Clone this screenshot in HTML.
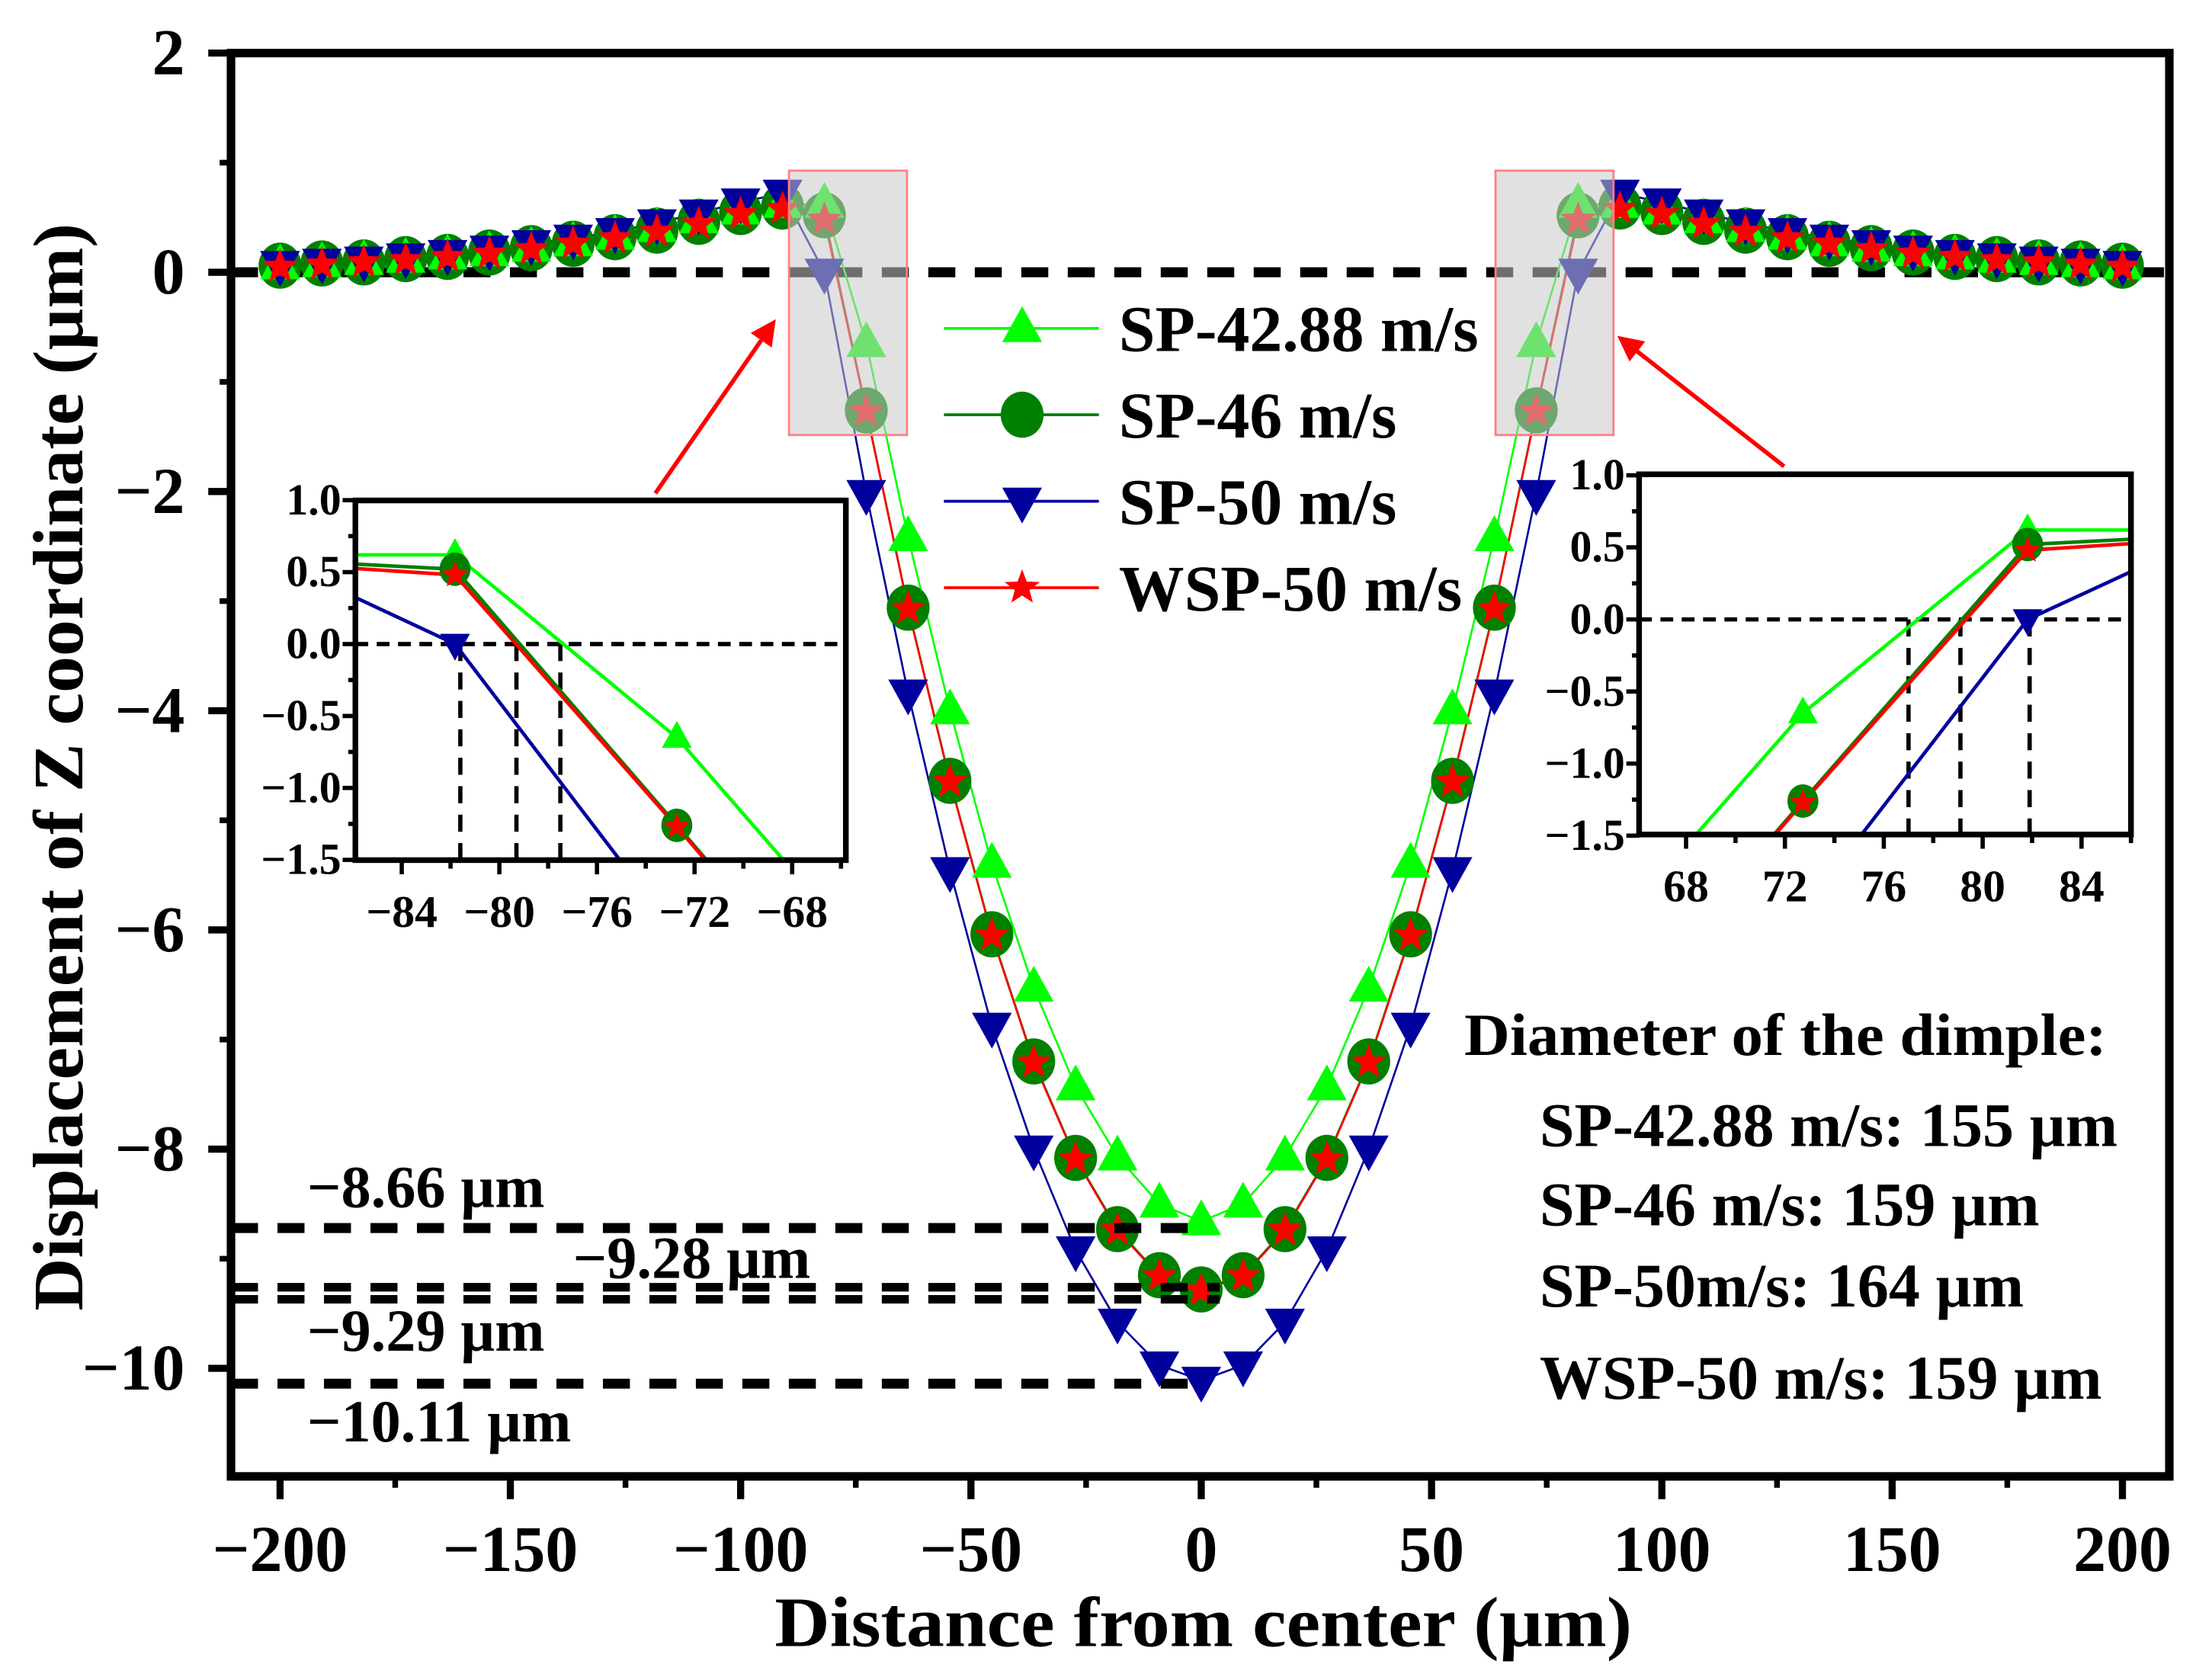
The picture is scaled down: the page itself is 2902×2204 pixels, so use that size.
<!DOCTYPE html>
<html><head><meta charset="utf-8"><style>
html,body{margin:0;padding:0;background:#fff;width:2902px;height:2204px;overflow:hidden}
svg{display:block}
text{font-family:"Liberation Serif","DejaVu Serif",serif;font-weight:bold;fill:#000}
</style></head><body>
<svg id="chart" xmlns="http://www.w3.org/2000/svg" width="2902" height="2204" viewBox="0 0 1556 1181.7">
<rect x="0" y="0" width="1556" height="1182" fill="#fff"/>
<g id="main"></g>
<g id="insetL"></g>
<g id="insetR"></g>
<g id="annot"></g>
</svg>
<script>
const halfX = [0,1,2,3,4,5,6,7,8,9,10,11,12,13,14,15,16,17,18,19,20,21,22];
const sp4288Half = [-8.66,-8.5,-8.07,-7.43,-6.53,-5.4,-4.0,-2.42,-0.65,0.62,0.62,0.56,0.48,0.40,0.33,0.27,0.22,0.18,0.15,0.12,0.10,0.08,0.06];
const sp46Half = [-9.28,-9.15,-8.73,-8.08,-7.2,-6.04,-4.64,-3.06,-1.26,0.52,0.6,0.55,0.46,0.38,0.32,0.26,0.22,0.18,0.14,0.12,0.09,0.08,0.06];
const sp50Half = [-10.11,-9.97,-9.58,-8.92,-8.0,-6.88,-5.46,-3.84,-2.02,0.0,0.72,0.64,0.54,0.45,0.37,0.31,0.26,0.21,0.17,0.14,0.11,0.09,0.07];
const wspHalf = [-9.29,-9.16,-8.74,-8.09,-7.21,-6.05,-4.65,-3.07,-1.27,0.48,0.58,0.53,0.44,0.37,0.31,0.26,0.21,0.17,0.14,0.11,0.09,0.07,0.05];
const xStep = 200/22;
const xTicks = [-200,-150,-100,-50,0,50,100,150,200];
const yTicks = [2,0,-2,-4,-6,-8,-10];
const insetYTicks = [1.0,0.5,0.0,-0.5,-1.0,-1.5];
const insetLXTicks = [-84,-80,-76,-72,-68];
const insetRXTicks = [68,72,76,80,84];
const crossL = [-81.6,-79.3,-77.5];
const crossR = [77.0,79.1,81.9];
const refLineValues = [-8.72,-9.26,-9.37,-10.14];
const refLabels = ["\u22128.66 \u00b5m","\u22129.28 \u00b5m","\u22129.29 \u00b5m","\u221210.11 \u00b5m"];
const seriesNames = ["SP-42.88 m/s","SP-46 m/s","SP-50 m/s","WSP-50 m/s"];
const diamLabels = ["SP-42.88 m/s: 155 \u00b5m","SP-46 m/s: 159 \u00b5m","SP-50m/s: 164 \u00b5m","WSP-50 m/s: 159 \u00b5m"];

const NS="http://www.w3.org/2000/svg";
function mk(tag,parent,attrs){const e=document.createElementNS(NS,tag);for(const k in attrs)e.setAttribute(k,attrs[k]);parent.appendChild(e);return e;}
function full(h){const xs=[],ys=[];for(let i=22;i>=1;i--){xs.push(-halfX[i]*xStep);ys.push(h[i]);}for(let i=0;i<=22;i++){xs.push(halfX[i]*xStep);ys.push(h[i]);}return {xs,ys};}
const S=[{d:full(sp4288Half),c:"#00ff00",m:"tri"},{d:full(sp46Half),c:"#008000",m:"circ"},{d:full(sp50Half),c:"#00009c",m:"dtri"},{d:full(wspHalf),c:"#ff0000",m:"star"}];
const SK=["sp-42-88","sp-46","sp-50","wsp-50"];

function marker(g,type,cx,cy,sz,col){
  let e;
  if(type==="circ"){e=mk("ellipse",g,{cx:cx,cy:cy,rx:sz*0.52,ry:sz*0.56,fill:col});}
  else if(type==="tri"){const h=sz*0.9,w=sz;e=mk("polygon",g,{points:`${cx},${cy-h*0.62} ${cx-w/2},${cy+h*0.38} ${cx+w/2},${cy+h*0.38}`,fill:col});}
  else if(type==="dtri"){const h=sz*0.9,w=sz;e=mk("polygon",g,{points:`${cx},${cy+h*0.62} ${cx-w/2},${cy-h*0.38} ${cx+w/2},${cy-h*0.38}`,fill:col});}
  else {const R=sz*0.5,r=R*0.42;let p=[];for(let k=0;k<10;k++){const a=-Math.PI/2+k*Math.PI/5;const rr=k%2?r:R;p.push((cx+rr*Math.cos(a)).toFixed(1)+","+(cy+rr*Math.sin(a)).toFixed(1));}e=mk("polygon",g,{points:p.join(" "),fill:col});}
  return e;
}

const M={l:162.5,r:1526,t:37.3,b:1038.5};
const X=v=>845+v*3.24, Y=v=>191.5-v*77.1;
const main=document.getElementById("main");
let zl=mk("line",main,{x1:M.l,x2:M.r,y1:Y(0),y2:Y(0),stroke:"#000","stroke-width":7,"stroke-dasharray":"19 13.7"});


S.forEach((s,si)=>{
  const pts=s.d.xs.map((x,i)=>X(x).toFixed(1)+","+Y(s.d.ys[i]).toFixed(1)).join(" ");
  const pl=mk("polyline",main,{points:pts,fill:"none",stroke:s.c,"stroke-width":1.4});
  
  
});
const sizes={tri:28,circ:29,dtri:28,star:26};
[1,0,2,3].forEach(si=>{
  const s=S[si];const g=mk("g",main,{});
  
  
  s.d.xs.forEach((x,i)=>{const e=marker(g,s.m,X(x),Y(s.d.ys[i]),sizes[s.m],s.c);
    
    });
});
[[555,638],[1052,1135]].forEach((r,k)=>{
  const e=mk("rect",main,{x:r[0],y:120,width:r[1]-r[0],height:186,fill:"rgba(200,200,200,0.55)",stroke:"#ff8080","stroke-width":1.5});
  
  
});
const refEnds=[839,858,858,843];
refLineValues.forEach((v,i)=>{
  const e=mk("line",main,{x1:M.l,x2:refEnds[i],y1:Y(v),y2:Y(v),stroke:"#000","stroke-width":i==1||i==2?6:7,"stroke-dasharray":"19 13.7"});
  
  
});
const fr=mk("rect",main,{x:M.l,y:M.t,width:M.r-M.l,height:M.b-M.t,fill:"none",stroke:"#000","stroke-width":6});


xTicks.forEach(v=>{
  const t=mk("line",main,{x1:X(v),x2:X(v),y1:M.b,y2:M.b+16,stroke:"#000","stroke-width":5});
  
  
  const tx=mk("text",main,{x:X(v),y:1105,"text-anchor":"middle","font-size":46});
  tx.textContent=(v<0?"\u2212":"")+Math.abs(v);
  
  
});
for(let v=-175;v<=175;v+=50){const t=mk("line",main,{x1:X(v),x2:X(v),y1:M.b,y2:M.b+8,stroke:"#000","stroke-width":4});
  
  }
yTicks.forEach(v=>{
  const t=mk("line",main,{x1:M.l-16,x2:M.l,y1:Y(v),y2:Y(v),stroke:"#000","stroke-width":5});
  
  
  const tx=mk("text",main,{x:130,y:Y(v)+15,"text-anchor":"end","font-size":46});
  tx.textContent=(v<0?"\u2212":"")+Math.abs(v);
  
  
});
for(let v=1;v>=-9;v-=2){const t=mk("line",main,{x1:M.l-8,x2:M.l,y1:Y(v),y2:Y(v),stroke:"#000","stroke-width":4});
  
  }
let xt=mk("text",main,{x:545,y:1158,"font-size":50,textLength:603,lengthAdjust:"spacingAndGlyphs"});
xt.textContent="Distance from center (\u00b5m)";


let yt=mk("text",main,{x:0,y:0,"font-size":50,textLength:765,lengthAdjust:"spacingAndGlyphs",transform:"translate(58,922) rotate(-90)"});
yt.textContent="Displacement of Z coordinate (\u00b5m)";



function inset(id,box,x0,x1,ticks,cross,labX,labBase){
  const g=document.getElementById(id);
  const XI=v=>box.l+(v-x0)/(x1-x0)*(box.r-box.l);
  const YI=v=>box.y0-v*box.k;
  mk("rect",g,{x:box.l,y:box.t,width:box.r-box.l,height:box.b-box.t,fill:"#fff"});
  const cid=id+"clip";const cp=mk("clipPath",g,{id:cid});mk("rect",cp,{x:box.l,y:box.t,width:box.r-box.l,height:box.b-box.t});
  const inner=mk("g",g,{"clip-path":`url(#${cid})`});
  const z=mk("line",inner,{x1:box.l,x2:box.r,y1:YI(0),y2:YI(0),stroke:"#000","stroke-width":3,"stroke-dasharray":"9 6"});
  
  
  cross.forEach(v=>{const e=mk("line",inner,{x1:XI(v),x2:XI(v),y1:YI(0),y2:box.b,stroke:"#000","stroke-width":3,"stroke-dasharray":"12 8"});
    
    });
  S.forEach((s,si)=>{
    const pts=s.d.xs.map((x,i)=>XI(x).toFixed(1)+","+YI(s.d.ys[i]).toFixed(1)).join(" ");
    const pl=mk("polyline",inner,{points:pts,fill:"none",stroke:s.c,"stroke-width":2.5});
    
    
  });
  const isz={tri:21,circ:21,dtri:21,star:20};
  [0,1,2,3].forEach(si=>{const s=S[si];
    s.d.xs.forEach((x,i)=>{const y=s.d.ys[i];if(x<x0||x>x1||y<-1.6||y>1.05)return;
      const e=marker(inner,s.m,XI(x),YI(y),isz[s.m],s.c);
      
      });
  });
  const f=mk("rect",g,{x:box.l,y:box.t,width:box.r-box.l,height:box.b-box.t,fill:"none",stroke:"#000","stroke-width":4});
  
  
  ticks.forEach(v=>{const t=mk("line",g,{x1:XI(v),x2:XI(v),y1:box.b,y2:box.b+10,stroke:"#000","stroke-width":3});
    
    
    const tx=mk("text",g,{x:XI(v),y:labBase,"text-anchor":"middle","font-size":32});
    tx.textContent=(v<0?"\u2212":"")+Math.abs(v);
    
    
    const m=mk("line",g,{x1:XI(v+2),x2:XI(v+2),y1:box.b,y2:box.b+6,stroke:"#000","stroke-width":3});
    
    
  });
  insetYTicks.forEach(v=>{const t=mk("line",g,{x1:box.l-9,x2:box.l,y1:YI(v),y2:YI(v),stroke:"#000","stroke-width":3});
    
    
    const tx=mk("text",g,{x:labX,y:YI(v)+10,"text-anchor":"end","font-size":31});
    tx.textContent=(v<0?"\u2212":"")+Math.abs(v).toFixed(1);
    
    
    if(v>-1.5){const m=mk("line",g,{x1:box.l-5,x2:box.l,y1:YI(v-0.25),y2:YI(v-0.25),stroke:"#000","stroke-width":3});
      
      }
  });
}
inset("insetL",{l:250,r:595,t:352,b:605,y0:453,k:101.2},-85.9,-65.8,insetLXTicks,crossL,240,652);
inset("insetR",{l:1153,r:1499,t:333.6,b:587,y0:435.7,k:101.4},66.1,86.0,insetRXTicks,crossR,1143,634);

const an=document.getElementById("annot");
mk("defs",an,{}).innerHTML='<marker id="ah" markerWidth="6" markerHeight="6" refX="5" refY="3" orient="auto" markerUnits="strokeWidth"><path d="M0,0 L6,3 L0,6 z" fill="#ff0000"/></marker>';
[[461,347,544,227],[1255,328,1140,238]].forEach((a,k)=>{
  const e=mk("line",an,{x1:a[0],y1:a[1],x2:a[2],y2:a[3],stroke:"#ff0000","stroke-width":3,"marker-end":"url(#ah)"});
  
  
});
const legY=[231,291.7,352.6,413.4];
[0,1,2,3].forEach(i=>{
  const s=S[i];const g=mk("g",an,{});
  
  
  mk("line",g,{x1:664,x2:773,y1:legY[i],y2:legY[i],stroke:s.c,"stroke-width":2});
  marker(g,s.m,719,legY[i],sizes[s.m],s.c);
  const t=mk("text",g,{x:787,y:legY[i]+16,"font-size":46});
  t.textContent=seriesNames[i];
});
const refPos=[[216,849],[403,899],[216,950],[216,1014]];
refLabels.forEach((s,i)=>{
  const t=mk("text",an,{x:refPos[i][0],y:refPos[i][1],"font-size":42});
  t.textContent=s;
  
  
});
let dt=mk("text",an,{x:1030,y:742,"font-size":42,textLength:452,lengthAdjust:"spacingAndGlyphs"});
dt.textContent="Diameter of the dimple:";


const dY=[806,862,919,984];
diamLabels.forEach((s,i)=>{
  const t=mk("text",an,{x:1083,y:dY[i],"font-size":44});
  t.textContent=s;
  
  
});
</script>
</body></html>
